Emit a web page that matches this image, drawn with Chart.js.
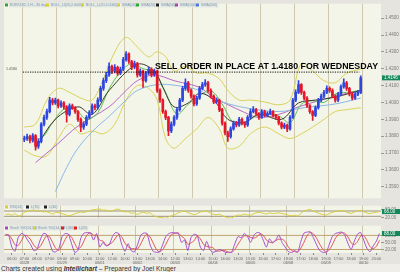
<!DOCTYPE html>
<html><head><meta charset="utf-8">
<script src="https://cdn.jsdelivr.net/npm/chart.js@4"></script>
<style>
html,body{margin:0;padding:0;background:#efeee8;width:400px;height:272px;overflow:hidden;font-family:'Liberation Sans',Arial,sans-serif}
canvas{position:absolute;left:0}
#credit{position:absolute;left:1px;top:263.5px;font-size:6.6px;color:#333;white-space:nowrap;line-height:9px}
</style></head><body>
<canvas id="cMain" width="400" height="202" style="top:0"></canvas>
<canvas id="cRsi" width="400" height="20" style="top:202px"></canvas>
<canvas id="cSto" width="400" height="42" style="top:222px"></canvas>
<div id="credit">Charts created using <b><i>Intellichart</i></b> – Prepared by Joel Kruger</div>
<script>
// ---------- DATA ----------
const opens = [1.3780,1.3786,1.3797,1.3774,1.3803,1.3740,1.3769,1.3871,1.3911,1.3946,1.4014,1.3997,1.4014,1.3980,1.3997,1.3974,1.3929,1.3980,1.3969,1.3946,1.3900,1.3854,1.3871,1.3911,1.3940,1.3980,1.3969,1.4014,1.4083,1.4129,1.4163,1.4214,1.4186,1.4209,1.4174,1.4197,1.4254,1.4289,1.4243,1.4209,1.4231,1.4163,1.4186,1.4129,1.4174,1.4197,1.4163,1.4186,1.4071,1.4014,1.3946,1.3911,1.3831,1.3871,1.3911,1.3957,1.4014,1.4083,1.4117,1.4071,1.4037,1.3991,1.4026,1.4083,1.4106,1.4117,1.4071,1.4037,1.4003,1.4014,1.3957,1.3877,1.3820,1.3797,1.3843,1.3877,1.3866,1.3900,1.3877,1.3866,1.3911,1.3946,1.3957,1.3934,1.3911,1.3946,1.3923,1.3934,1.3946,1.3923,1.3911,1.3877,1.3854,1.3866,1.3843,1.3911,1.4014,1.4060,1.4106,1.4060,1.4026,1.3980,1.3946,1.3923,1.3969,1.4014,1.4037,1.4060,1.4083,1.4071,1.4037,1.4014,1.4049,1.4094,1.4117,1.4083,1.4049,1.4026,1.4049,1.4060];
const highs = [1.3801,1.3812,1.3806,1.3815,1.3810,1.3782,1.3880,1.3925,1.3960,1.4031,1.4025,1.4026,1.4020,1.4010,1.4005,1.3982,1.3992,1.3990,1.3975,1.3952,1.3908,1.3885,1.3922,1.3952,1.3992,1.3990,1.4028,1.4095,1.4145,1.4178,1.4235,1.4222,1.4225,1.4215,1.4210,1.4268,1.4302,1.4295,1.4250,1.4245,1.4238,1.4200,1.4192,1.4185,1.4210,1.4205,1.4198,1.4192,1.4080,1.4022,1.3955,1.3918,1.3885,1.3922,1.3968,1.4025,1.4095,1.4140,1.4125,1.4080,1.4045,1.4038,1.4095,1.4120,1.4135,1.4125,1.4080,1.4045,1.4028,1.4020,1.3965,1.3885,1.3830,1.3855,1.3890,1.3888,1.3912,1.3908,1.3885,1.3922,1.3960,1.3975,1.3965,1.3940,1.3958,1.3955,1.3945,1.3960,1.3952,1.3930,1.3918,1.3885,1.3878,1.3872,1.3922,1.4025,1.4075,1.4129,1.4112,1.4068,1.4035,1.3988,1.3952,1.3980,1.4025,1.4050,1.4072,1.4098,1.4092,1.4080,1.4045,1.4060,1.4105,1.4140,1.4125,1.4090,1.4058,1.4060,1.4072,1.4158];
const lows = [1.3768,1.3775,1.3760,1.3765,1.3717,1.3728,1.3760,1.3860,1.3900,1.3938,1.3985,1.3988,1.3968,1.3970,1.3960,1.3883,1.3920,1.3958,1.3935,1.3888,1.3826,1.3840,1.3862,1.3902,1.3930,1.3955,1.3960,1.4005,1.4072,1.4118,1.4155,1.4170,1.4175,1.4160,1.4165,1.4188,1.4245,1.4232,1.4195,1.4200,1.4150,1.4155,1.4089,1.4120,1.4165,1.4152,1.4155,1.4060,1.4000,1.3935,1.3898,1.3803,1.3820,1.3860,1.3900,1.3948,1.4005,1.4072,1.4060,1.4025,1.3980,1.3982,1.4018,1.4075,1.4095,1.4060,1.4025,1.3992,1.3992,1.3945,1.3865,1.3808,1.3769,1.3788,1.3835,1.3855,1.3858,1.3866,1.3852,1.3858,1.3902,1.3938,1.3925,1.3900,1.3905,1.3915,1.3915,1.3928,1.3912,1.3900,1.3866,1.3843,1.3845,1.3826,1.3835,1.3905,1.4005,1.4052,1.4048,1.4015,1.3970,1.3935,1.3894,1.3915,1.3960,1.4005,1.4028,1.4052,1.4060,1.4028,1.4002,1.4005,1.4040,1.4085,1.4072,1.4038,1.4015,1.4018,1.4040,1.4052];
const closes = [1.3786,1.3797,1.3774,1.3803,1.3740,1.3769,1.3871,1.3911,1.3946,1.4014,1.3997,1.4014,1.3980,1.3997,1.3974,1.3929,1.3980,1.3969,1.3946,1.3900,1.3854,1.3871,1.3911,1.3940,1.3980,1.3969,1.4014,1.4083,1.4129,1.4163,1.4214,1.4186,1.4209,1.4174,1.4197,1.4254,1.4289,1.4243,1.4209,1.4231,1.4163,1.4186,1.4129,1.4174,1.4197,1.4163,1.4186,1.4071,1.4014,1.3946,1.3911,1.3831,1.3871,1.3911,1.3957,1.4014,1.4083,1.4117,1.4071,1.4037,1.3991,1.4026,1.4083,1.4106,1.4117,1.4071,1.4037,1.4003,1.4014,1.3957,1.3877,1.3820,1.3797,1.3843,1.3877,1.3866,1.3900,1.3877,1.3866,1.3911,1.3946,1.3957,1.3934,1.3911,1.3946,1.3923,1.3934,1.3946,1.3923,1.3911,1.3877,1.3854,1.3866,1.3843,1.3911,1.4014,1.4060,1.4106,1.4060,1.4026,1.3980,1.3946,1.3923,1.3969,1.4014,1.4037,1.4060,1.4083,1.4071,1.4037,1.4014,1.4049,1.4094,1.4117,1.4083,1.4049,1.4026,1.4049,1.4060,1.4146];

// overlay lines: [bar index, price]
const bollUpper = [[0,1.3854],[4,1.3871],[8,1.4014],[12,1.4083],[16,1.4060],[20,1.4026],[24,1.4014],[28,1.4140],[32,1.4300],[36,1.4386],[40,1.4329],[44,1.4271],[47,1.4300],[50,1.4271],[53,1.4186],[57,1.4214],[61,1.4174],[65,1.4174],[69,1.4140],[72,1.4071],[76,1.4014],[80,1.4014],[85,1.4003],[90,1.3986],[94,1.4014],[98,1.4231],[102,1.4186],[106,1.4129],[110,1.4117],[114,1.4174],[119,1.4197]];
const bollLower = [[0,1.3717],[4,1.3683],[8,1.3683],[12,1.3786],[16,1.3871],[20,1.3814],[24,1.3831],[28,1.3814],[32,1.3871],[36,1.4014],[40,1.4100],[44,1.4083],[47,1.4014],[50,1.3786],[53,1.3729],[57,1.3786],[61,1.3843],[65,1.3911],[69,1.3843],[72,1.3729],[76,1.3740],[80,1.3814],[85,1.3854],[90,1.3814],[94,1.3786],[98,1.3814],[102,1.3854],[106,1.3900],[110,1.3946],[114,1.3957],[119,1.3969]];
const smaGreen = [[0,1.3790],[6,1.3790],[10,1.3880],[14,1.3960],[18,1.3960],[22,1.3900],[26,1.3940],[30,1.4080],[34,1.4180],[38,1.4230],[42,1.4200],[46,1.4180],[50,1.4060],[54,1.3930],[58,1.3990],[62,1.4040],[66,1.4070],[70,1.3990],[74,1.3880],[78,1.3880],[82,1.3920],[86,1.3930],[90,1.3920],[94,1.3880],[98,1.3990],[102,1.4010],[106,1.4000],[110,1.4050],[114,1.4060],[119,1.4070]];
const smaBlack = [[4,1.3729],[11,1.3900],[19,1.3974],[24,1.3929],[30,1.4071],[40,1.4226],[46,1.4186],[49,1.4089],[53,1.3974],[58,1.3997],[62,1.4054],[67,1.4014],[72,1.3900],[78,1.3883],[83,1.3929],[91,1.3900],[97,1.3997],[103,1.4014],[110,1.4031],[115,1.4054],[119,1.4071]];
const smaPurple = [[4,1.3643],[12,1.3757],[19,1.3860],[30,1.3974],[35,1.4054],[40,1.4129],[46,1.4163],[53,1.4129],[56,1.4117],[62,1.4089],[67,1.4031],[78,1.3940],[83,1.3911],[90,1.3929],[97,1.3974],[105,1.4014],[114,1.4054],[119,1.4071]];
const smaBlue = [[11,1.3471],[15,1.3614],[19,1.3729],[25,1.3843],[30,1.3917],[36,1.4014],[40,1.4071],[47,1.4106],[54,1.4100],[62,1.4071],[67,1.4020],[78,1.3969],[90,1.3946],[99,1.3969],[110,1.3991],[119,1.4026]];
const sellLevel = 1.4180;

const rsi = [44,47,39,50,33,38,60,68,73,79,71,73,63,65,57,47,60,56,50,42,34,39,50,56,63,59,67,76,80,82,85,76,78,68,72,81,84,71,63,66,52,56,44,56,60,52,57,35,28,21,19,14,27,35,45,57,66,71,58,50,42,50,63,67,70,57,47,42,45,35,24,19,17,31,40,38,46,41,38,50,57,60,52,47,56,50,53,56,50,47,39,34,38,33,52,71,77,82,68,60,50,43,39,50,60,66,70,73,68,57,52,63,71,75,63,55,50,57,60,66];
const stochK = [85,80,30,12,70,88,82,60,40,15,20,60,88,85,50,12,10,25,75,88,85,45,8,15,70,90,92,90,60,88,30,50,35,40,75,92,88,40,12,45,15,10,40,80,90,88,40,12,8,10,40,75,88,92,90,88,50,60,15,70,85,80,30,15,55,20,8,12,20,15,8,5,10,45,75,70,88,75,50,80,92,90,60,30,65,50,60,82,50,30,12,6,15,8,55,90,94,95,70,40,15,8,5,40,75,88,92,94,80,45,20,55,85,92,60,25,10,35,55,88];
const stochD = [80,82,65,40,37,57,80,77,61,38,25,32,56,78,74,49,24,16,37,63,83,73,46,23,31,58,84,91,81,79,59,56,38,42,50,69,85,73,47,32,24,23,22,43,70,86,73,47,20,10,19,42,68,85,90,90,76,66,42,48,57,78,65,42,33,30,28,13,13,16,14,9,8,20,43,63,78,78,71,68,74,87,81,60,52,48,58,64,64,54,31,16,11,10,26,51,80,93,86,68,42,21,9,18,40,68,85,91,89,73,48,40,53,77,79,59,32,23,33,59];

const priceTicks = [1.35,1.36,1.37,1.38,1.39,1.40,1.41,1.42,1.43,1.44,1.45];
const rsiTicks = [20,50,80];
const stochTicks = [20,50,80];
const rsiLevels = [70,30];
const stochLevels = [80,20];
const dayBounds = [5.5,17.5,29.5,41.5,53.5,65.5,77.5,89.5,101.5,113.5];
const timeTickIdx = [2,6,10,14,18,22,26,30,34,38,42,46,50,54,58,62,66,70,74,78,82,86,90,94,98,102,106,110,114,118];
const timeLabels = ["06:00","07:00","08:00","07:00","08:00","09:00","10:00","11:00","12:00","10:00","13:00","14:00","14:00","12:00","13:00","14:00","15:00","16:00","14:00","15:00","16:00","17:00","18:00","17:00","18:00","19:00","17:00","18:00","19:00","20:00"];
const dateLabels = ["05/28","05/29","06/01","06/02","06/03","06/04","06/05","06/08","06/09","06/10"];
const mainLegend = [["#2fa82f","EUR/USD 1 H - 30 days"],["#d8cf3a","BOLL_U(20,2.0000)"],["#d8cf3a","BOLL_L(20,2.0000)"],["#d8cf3a","SMA(10)"],["#2fa82f","SMA(20)"],["#222222","SMA(50)"],["#b040b8","SMA(100)"],["#4a78d8","SMA(200)"]];
const rsiLegend = [["#d8cf3a","RSI(14)"],["#222222","L(70)"],["#222222","L(30)"]];
const stochLegend = [["#b040c8","Stoch %K(14,3,3)"],["#d8cf3a","Stoch %D(14,3,3)"],["#e02020","L(80)"],["#e02020","L(20)"]];

// ---------- HELPERS ----------
const N = closes.length;
const UP = '#2e46e0', DN = '#e3162a';
const candleColors = closes.map((c,i)=> c >= opens[i] ? UP : DN);
const PLOT_L = 4, AXIS_W = 19;
const F = "'Liberation Sans', Arial, sans-serif";

function xGrid() {
  return { type:'linear', min:-0.5, max:N-0.5, display:true,
    afterBuildTicks: a => { a.ticks = dayBounds.map(v=>({value:v})); },
    ticks:{display:false}, grid:{color:'#cfc8b0', drawTicks:false, lineWidth:1}, border:{display:false},
    afterFit: s => { s.height = 0; } };
}
function yAxis(min, max, ticks, fmt) {
  return { type:'linear', position:'right', min, max,
    afterBuildTicks: a => { a.ticks = ticks.map(v=>({value:v})); },
    ticks:{font:{size:4.5, family:F}, color:'#7a7a7a', padding:1, callback: v => v.toFixed(fmt)},
    grid:{drawOnChartArea:false, drawTicks:true, tickLength:3, color:'#999'}, border:{display:false},
    afterFit: s => { s.width = AXIS_W; } };
}
function pts(arr){ return arr.map(p=>({x:p[0], y:p[1]})); }
function line(label, data, color, order, extra){ return Object.assign({type:'line', label, data, borderColor:color, borderWidth:1, pointRadius:0, tension:0.35, fill:false, order}, extra||{}); }

const bgPlugin = { id:'bg', beforeDraw(chart){ const {ctx, chartArea:a, width, height} = chart; ctx.save();
  ctx.fillStyle = '#e6e4de'; ctx.fillRect(0,0,width,height);
  ctx.fillStyle = '#f4f5e9'; ctx.fillRect(a.left, a.top, a.right-a.left, a.bottom-a.top);
  ctx.restore(); } };
function legendPlugin(items, y, xs) { return { id:'lg', afterDraw(chart){ const ctx = chart.ctx; ctx.save();
  ctx.font = '3.6px ' + F; ctx.textBaseline = 'middle';
  items.forEach((it,i)=>{ const x = xs[i]; const w = ctx.measureText(it[1]).width;
    ctx.fillStyle = 'rgba(225,232,225,0.9)'; ctx.fillRect(x+4, y-2.5, w+2, 5);
    ctx.fillStyle = it[0]; ctx.fillRect(x, y-1.5, 3, 3);
    ctx.fillStyle = '#7f95b0'; ctx.fillText(it[1], x+5, y); });
  ctx.restore(); } }; }
function valueTag(value, text, color) { return { id:'tag', afterDraw(chart){ const ctx = chart.ctx, ys = chart.scales.y;
  const py = ys.getPixelForValue(value); const a = chart.chartArea; ctx.save();
  ctx.fillStyle = color; ctx.fillRect(a.right+1, py-2.5, 18, 5);
  ctx.fillStyle = '#fff'; ctx.font = '4.5px ' + F; ctx.textBaseline='middle'; ctx.fillText(text, a.right+3, py);
  ctx.restore(); } }; }

const layout = { padding:{left:PLOT_L, right:0, top:0, bottom:0} };
const baseOpts = { responsive:false, animation:false, devicePixelRatio:1, layout,
  plugins:{legend:{display:false}, tooltip:{enabled:false}} };

// ---------- MAIN PRICE CHART ----------
const sellPlugin = { id:'sell', afterDatasetsDraw(chart){ const ctx = chart.ctx, ys = chart.scales.y, xs = chart.scales.x;
  const py = ys.getPixelForValue(sellLevel); ctx.save();
  ctx.font = 'bold 10px ' + F; const txt = 'SELL ORDER IN PLACE AT 1.4180 FOR WEDNESDAY';
  const w = ctx.measureText(txt).width; const x0 = 155, targetW = 223;
  ctx.translate(x0, py-2.6); ctx.scale(targetW/w, 0.95); ctx.fillStyle = '#000'; ctx.textBaseline='alphabetic';
  ctx.fillText(txt, 0, 0); ctx.restore();
  ctx.save(); ctx.font = '3.6px ' + F; ctx.fillStyle = '#555'; ctx.textBaseline='bottom';
  ctx.fillText(sellLevel.toFixed(4), xs.left+2, py-1); ctx.restore(); } };

new Chart(document.getElementById('cMain'), {
  data:{ datasets:[
    line('BOLL_U', pts(bollUpper), '#d9d35a', 6),
    line('BOLL_L', pts(bollLower), '#d9d35a', 6),
    line('SMA200', pts(smaBlue), '#8ab8e8', 5),
    line('SMA100', pts(smaPurple), '#b868c8', 5),
    line('SMA50', pts(smaBlack), '#3a3a2a', 4),
    line('SMA20', pts(smaGreen), '#5cc05c', 4),
    {type:'bar', label:'wick', data: highs.map((h,i)=>({x:i, y:[lows[i], h]})), backgroundColor:candleColors, barThickness:1, grouped:false, order:2},
    {type:'bar', label:'body', data: opens.map((o,i)=>({x:i, y:[o, closes[i]]})), backgroundColor:candleColors, barThickness:2, minBarLength:1, grouped:false, order:1},
    line('sell', [{x:-0.5,y:sellLevel},{x:N-1.5,y:sellLevel}], '#111', 0, {borderDash:[1.2,1.2], tension:0})
  ]},
  options: Object.assign({}, baseOpts, { scales:{ x: xGrid(), y: yAxis(1.34314, 1.45857, priceTicks, 4) } }),
  plugins:[bgPlugin, legendPlugin(mainLegend, 5, [5,46,81,117,136,156,175,196]), sellPlugin, valueTag(closes[N-1], closes[N-1].toFixed(4), '#16875a')]
});

// ---------- RSI ----------
new Chart(document.getElementById('cRsi'), {
  data:{ datasets:[
    line('L70', [{x:-0.5,y:rsiLevels[0]},{x:N-0.5,y:rsiLevels[0]}], '#9a927c', 2, {tension:0}),
    line('L30', [{x:-0.5,y:rsiLevels[1]},{x:N-0.5,y:rsiLevels[1]}], '#9a927c', 2, {tension:0}),
    line('RSI', rsi.map((v,i)=>({x:i,y:v})), '#d6cd3c', 1, {tension:0.2})
  ]},
  options: Object.assign({}, baseOpts, { scales:{ x: xGrid(), y: yAxis(15, 110, rsiTicks, 2) } }),
  plugins:[bgPlugin, legendPlugin(rsiLegend, 5, [5,26,44]), valueTag(rsi[N-1], rsi[N-1].toFixed(2), '#16875a')]
});

// ---------- STOCHASTIC ----------
const stoScales = { x: xGrid(), y: yAxis(5, 121.25, stochTicks, 2),
  xl: { type:'linear', position:'bottom', min:-0.5, max:N-0.5,
    afterBuildTicks: a => { a.ticks = timeTickIdx.map(v=>({value:v})); },
    ticks:{ autoSkip:false, maxRotation:0, font:{size:3.8, family:F}, color:'#666', padding:1.5,
      callback:(v,i)=> (i%3===1) ? [timeLabels[i], dateLabels[(i-1)/3]] : timeLabels[i] },
    grid:{drawOnChartArea:false, tickLength:2, color:'#888'}, border:{display:false},
    afterFit: s => { s.height = 11; } } };
new Chart(document.getElementById('cSto'), {
  data:{ datasets:[
    line('L80', [{x:-0.5,y:stochLevels[0]},{x:N-0.5,y:stochLevels[0]}], '#c0a070', 3, {tension:0}),
    line('L20', [{x:-0.5,y:stochLevels[1]},{x:N-0.5,y:stochLevels[1]}], '#c0a070', 3, {tension:0}),
    line('D', stochD.map((v,i)=>({x:i,y:v})), '#e0505a', 2, {tension:0.2}),
    line('K', stochK.map((v,i)=>({x:i,y:v})), '#a050d0', 1, {tension:0.2})
  ]},
  options: Object.assign({}, baseOpts, { scales: stoScales }),
  plugins:[bgPlugin, legendPlugin(stochLegend, 6, [5,33,61,74]), valueTag(stochK[N-1], stochK[N-1].toFixed(2), '#16875a')]
});
</script>
</body></html>
